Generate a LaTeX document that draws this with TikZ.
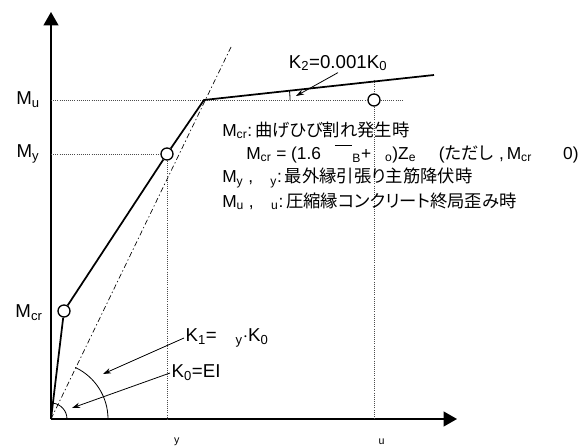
\documentclass[tikz,border=0pt]{standalone}
\usepackage{fontspec}
\setmainfont{Liberation Sans}
\newfontfamily\jfont{Noto Sans CJK JP}[RawFeature=+palt]
\usetikzlibrary{arrows.meta}

\tikzset{
  axis/.style={line width=1.5pt,-{Triangle[length=10pt,width=11pt]}},
  curve/.style={line width=1.3pt},
  guide/.style={line width=0.6pt,densely dotted,black!70},
  secant/.style={line width=0.5pt,dash pattern=on 4pt off 2pt on 1pt off 2pt},
  pointer/.style={line width=0.6pt,-{Stealth[length=6pt,width=4pt]}},
  ptmark/.style={circle,draw,line width=1pt,fill=white,minimum size=9pt,inner sep=0pt},
  lbl/.style={inner sep=1pt},
}
\newcommand{\sub}[1]{\textsubscript{#1}}

\begin{document}
\begin{tikzpicture}[x=0.75pt,y=-0.75pt,font=\fontsize{14}{16}\selectfont]
            \useasboundingbox (0,0) rectangle (580,448);
            % axes
            \coordinate (O) at (51,419);
            \coordinate (ytop) at (51,12);
            \coordinate (xend) at (457,419);
            \draw[axis] (O) -- (ytop);
            \draw[axis] (O) -- (xend);

            % points
            \node[ptmark] (cr) at (64,311) {};
            \node[ptmark] (yp) at (167,154) {};
            \coordinate (kink) at (204,100);
            \coordinate (k2end) at (434,75);
            \node[ptmark] (up) at (374,100) {};
            \coordinate (mu) at (51,100);
            \coordinate (my) at (51,154);
            \coordinate (mutail) at (404,100);
            \coordinate (utop) at (374,80);
            \coordinate (ubot) at (374,419);
            \coordinate (ybot) at (167,419);
            \coordinate (sectop) at (232,45);

            % guide lines
            \draw[guide] (mu) -- (up) -- (mutail);
            \draw[guide] (my) -- (yp);
            \draw[guide] (yp) -- (ybot);
            \draw[guide] (utop) -- (up) -- (ubot);
            \draw[secant] (O) -- (sectop);

            % trilinear curve
            \draw[curve] (O) -- (cr) -- (yp) -- (kink) -- (k2end);

            % angles
            \draw[line width=0.6pt] (67,419) arc[start angle=0,end angle=-83,radius=16];
            \draw[line width=0.6pt] (108,419) arc[start angle=0,end angle=-64.7,radius=57];
            \draw[line width=0.6pt] (290,100) arc[start angle=0,end angle=-6.2,radius=86];

            % axis labels
            \node (lmu) at (28,100) {M\sub{u}};
            \node (lmy) at (28,154) {M\sub{y}};
            \node (lmcr) at (29,313) {M\sub{cr}};
            \node[font=\fontsize{12}{14}\selectfont] (lphy) at (177,442) {\sub{y}};
            \node[font=\fontsize{12}{14}\selectfont] (lphu) at (382,442) {\sub{u}};

            % stiffness labels
            \node[lbl] (k2) at (338,63) {K\sub{2}=0.001K\sub{0}};
            \node[lbl,anchor=west] (k1) at (184,338) {K\sub{1}=\hspace{1em}\sub{y}$\cdot$K\sub{0}};
            \node[lbl,anchor=west] (k0) at (170,373) {K\sub{0}=EI};
            \coordinate (k2tip) at (296,96);
            \coordinate (k1tip) at (103,374);
            \coordinate (k0tip) at (72,408);
            \draw[pointer] (k2.south) -- (k2tip);
            \draw[pointer] (k1.west) -- (k1tip);
            \draw[pointer] (k0.west) -- (k0tip);

            % legend
            \begin{scope}[every node/.style={anchor=west,inner sep=0pt},font=\fontsize{13}{15}\selectfont]
                \node (t1) at (222,130) {M\sub{cr}:\,{\jfont 曲げひび割れ発生時}};
                \node (t2) at (246,154) {M\sub{cr} = (1.6\hspace{0.8em}\raisebox{0.78em}{\rule{1em}{0.6pt}}\sub{B}+\hspace{0.8em}\sub{o})Z\sub{e}\hspace{1.3em}({\jfont ただし}\,\,,\,M\sub{cr}\hspace{1.8em}0)};
                \node (t3) at (222,178) {M\sub{y} ,\hspace{1em}\sub{y}:\,{\jfont 最外縁引張り主筋降伏時}};
                \node (t4) at (222,201) {M\sub{u} ,\hspace{1em}\sub{u}:\,{\jfont 圧縮縁コンクリート終局歪み時}};
            \end{scope}
\end{tikzpicture}
\end{document}
